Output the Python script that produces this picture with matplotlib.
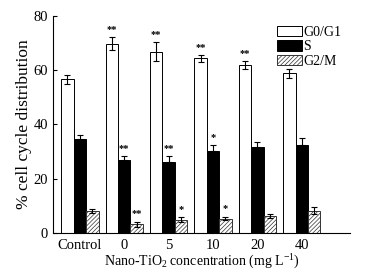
import numpy as np
import matplotlib
matplotlib.use("Agg")
import matplotlib.pyplot as plt
from matplotlib.patches import Patch

plt.rcParams['font.family'] = ['Liberation Serif', 'DejaVu Serif']
plt.rcParams['mathtext.fontset'] = 'custom'
plt.rcParams['mathtext.rm'] = 'Liberation Serif'
plt.rcParams['mathtext.it'] = 'Liberation Serif:italic'
plt.rcParams['hatch.linewidth'] = 0.5

groups = ['Control', '0', '5', '10', '20', '40']
g0g1 = [56.6, 69.7, 66.7, 64.3, 61.8, 58.8]
g0g1_err = [1.6, 2.4, 3.5, 1.2, 1.5, 1.6]
s_phase = [34.7, 26.7, 26.1, 30.3, 31.6, 32.5]
s_err = [1.5, 1.5, 2.3, 2.1, 1.8, 2.4]
g2m = [8.2, 3.2, 4.9, 5.3, 6.1, 8.2]
g2m_err = [0.8, 1.0, 0.8, 0.7, 0.7, 1.3]
g0g1_sig = ['', '**', '**', '**', '**', '']
s_sig = ['', '**', '**', '*', '', '']
g2m_sig = ['', '**', '*', '*', '', '']

fig = plt.figure(figsize=(3.67, 2.77), dpi=100)
ax = fig.add_axes([0.144, 0.159, 0.81, 0.784])

x = np.arange(len(groups))
w = 0.28
ekw = dict(ecolor='black', elinewidth=0.8, capsize=2.5, capthick=0.8)

ax.bar(x - w, g0g1, w, color='white', edgecolor='black', linewidth=0.7,
       yerr=g0g1_err, error_kw=ekw)
ax.bar(x, s_phase, w, color='black', edgecolor='black', linewidth=0.7,
       yerr=[np.zeros(len(s_err)), s_err], error_kw=ekw)
ax.bar(x + w, g2m, w, color='white', edgecolor='#333333', linewidth=0.7,
       hatch='////////', yerr=g2m_err, error_kw=ekw)

# significance stars
for i in range(len(groups)):
    for off, vals, errs, sig in [(-w, g0g1, g0g1_err, g0g1_sig),
                                 (0, s_phase, s_err, s_sig),
                                 (w, g2m, g2m_err, g2m_sig)]:
        if sig[i]:
            ax.text(x[i] + off, vals[i] + errs[i] + 1.2, sig[i],
                    ha='center', va='bottom', fontsize=7.5, fontweight='bold')

ax.set_xlim(-0.61, 6.09)
ax.set_ylim(0, 80)
ax.set_yticks([0, 20, 40, 60, 80])
ax.set_xticks(x)
ax.set_xticklabels(groups)
ax.tick_params(axis='y', direction='in', length=3, labelsize=10.5, width=0.8)
ax.tick_params(axis='x', length=0, labelsize=10.5, pad=4)
ax.spines['top'].set_visible(False)
ax.spines['right'].set_visible(False)
ax.spines['left'].set_linewidth(0.8)
ax.spines['bottom'].set_linewidth(0.8)

ax.set_ylabel('% cell cycle distribution', fontsize=12.5, labelpad=1)
ax.set_xlabel('Nano-TiO$_2$ concentration (mg L$^{-1}$)', fontsize=10, labelpad=1)

handles = [Patch(facecolor='white', edgecolor='black', linewidth=0.7),
           Patch(facecolor='black', edgecolor='black', linewidth=0.7),
           Patch(facecolor='white', edgecolor='#333333', linewidth=0.7, hatch='////////')]
ax.legend(handles, ['G0/G1', 'S', 'G2/M'], loc='upper right', frameon=False,
          fontsize=10, handlelength=1.8, handleheight=0.75, labelspacing=0.12,
          handletextpad=0.15, borderaxespad=0.0, bbox_to_anchor=(0.99, 0.98))

fig.savefig('out.png', dpi=100)
